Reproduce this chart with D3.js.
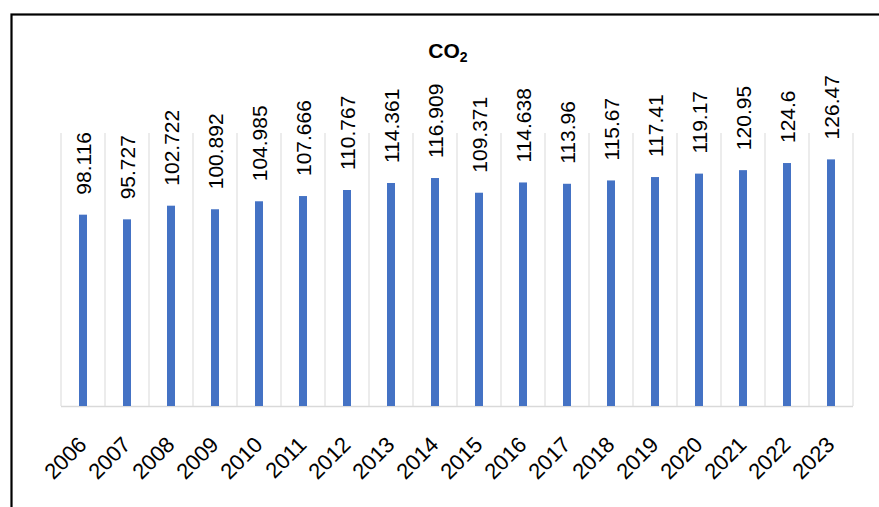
<!DOCTYPE html>
<html>
<head>
<meta charset="utf-8">
<script src="https://cdn.jsdelivr.net/npm/d3@7"></script>
<style>
  html, body { margin: 0; padding: 0; background: #fff; }
  svg { display: block; font-family: Arial, "Liberation Sans", sans-serif; }
</style>
</head>
<body>
<svg id="chart" width="879" height="507"></svg>
<script>
const years = ["2006","2007","2008","2009","2010","2011","2012","2013","2014","2015","2016","2017","2018","2019","2020","2021","2022","2023"];
const co2Values = [98.116, 95.727, 102.722, 100.892, 104.985, 107.666, 110.767, 114.361, 116.909, 109.371, 114.638, 113.96, 115.67, 117.41, 119.17, 120.95, 124.6, 126.47];
const valueLabels = ["98.116","95.727","102.722","100.892","104.985","107.666","110.767","114.361","116.909","109.371","114.638","113.96","115.67","117.41","119.17","120.95","124.6","126.47"];
const yDomain = [0, 140];

const svg = d3.select("#chart");

// outer frame
svg.append("rect")
  .attr("x", 11.5).attr("y", 14.5)
  .attr("width", 900).attr("height", 520)
  .attr("fill", "none").attr("stroke", "#000").attr("stroke-width", 2.2);

const plot = { left: 61, right: 853, top: 133, bottom: 406 };

const x = d3.scaleBand().domain(years).range([plot.left, plot.right]).padding(0);
const y = d3.scaleLinear().domain(yDomain).range([plot.bottom, plot.top]);

// vertical gridlines at category boundaries
const bounds = years.map(d => x(d)).concat([x(years[years.length - 1]) + x.bandwidth()]);
svg.append("g").selectAll("line").data(bounds).join("line")
  .attr("x1", d => d).attr("x2", d => d)
  .attr("y1", plot.top).attr("y2", plot.bottom)
  .attr("stroke", "#d9d9d9").attr("stroke-width", 1);

// baseline axis
svg.append("line")
  .attr("x1", plot.left).attr("x2", plot.right)
  .attr("y1", plot.bottom + 0.5).attr("y2", plot.bottom + 0.5)
  .attr("stroke", "#d9d9d9").attr("stroke-width", 1.5);

const barW = 8;
svg.append("g").selectAll("rect").data(years).join("rect")
  .attr("x", (d) => x(d) + x.bandwidth() / 2 - barW / 2)
  .attr("y", (d, i) => y(co2Values[i]))
  .attr("width", barW)
  .attr("height", (d, i) => y(0) - y(co2Values[i]))
  .attr("fill", "#4472C4");

// data labels (rotated -90)
svg.append("g").selectAll("text").data(years).join("text")
  .attr("transform", (d, i) => `translate(${x(d) + x.bandwidth() / 2 + 8},${y(co2Values[i]) - 20}) rotate(-90)`)
  .attr("text-anchor", "start")
  .attr("font-size", 21)
  .attr("fill", "#000")
  .text((d, i) => valueLabels[i]);

// x axis labels (rotated -45)
svg.append("g").selectAll("text").data(years).join("text")
  .attr("transform", d => `translate(${x(d) + x.bandwidth() / 2 + 5},${plot.bottom + 40}) rotate(-45)`)
  .attr("text-anchor", "end")
  .attr("font-size", 22)
  .attr("fill", "#000")
  .text(d => d);

// title
const title = svg.append("text")
  .attr("x", 448).attr("y", 58)
  .attr("text-anchor", "middle")
  .attr("font-size", 21).attr("font-weight", "bold")
  .attr("fill", "#000");
title.append("tspan").text("CO");
title.append("tspan").attr("font-size", 14).attr("dy", 4).text("2");
</script>
</body>
</html>
